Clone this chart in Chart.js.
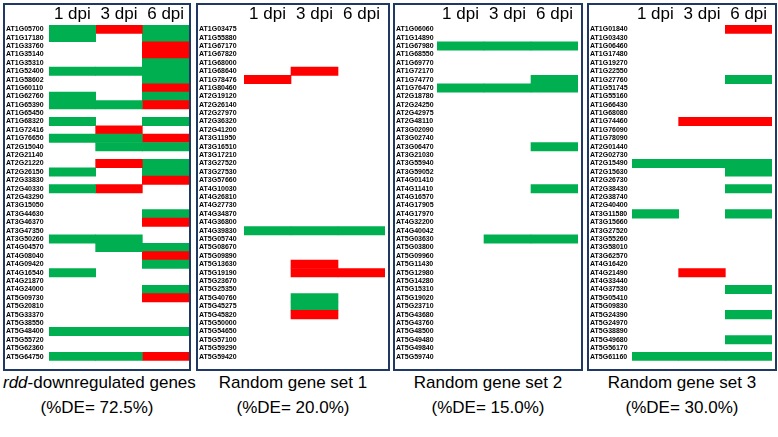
<!DOCTYPE html>
<html>
<head>
<meta charset="utf-8">
<script src="https://cdn.jsdelivr.net/npm/chart.js@4.4.1/dist/chart.umd.min.js"></script>
<style>
  body { margin: 0; background: #fff; font-family: "Liberation Sans", Arial, sans-serif; }
  #wrap { position: relative; width: 778px; height: 437px; overflow: hidden; }
  .box { position: absolute; border: 2px solid #1f3864; box-sizing: border-box; }
  .panel { position: absolute; }
  .cap { position: absolute; text-align: center; font-size: 17px; color: #000; line-height: 25px; white-space: nowrap; }
</style>
</head>
<body>
<div id="wrap"></div>
<script>
// column headers (days post inoculation)
const dpiLabels = ['1 dpi', '3 dpi', '6 dpi'];

// calls per gene for 1 / 3 / 6 dpi: G = down (green), R = up (red), - = not DE
const rddGenes = ['AT1G05700', 'AT1G17180', 'AT1G33760', 'AT1G35140', 'AT1G35310', 'AT1G52400', 'AT1G58602', 'AT1G60110',
    'AT1G62760', 'AT1G65390', 'AT1G65450', 'AT1G68320', 'AT1G72416', 'AT1G76650', 'AT2G15040', 'AT2G21140',
    'AT2G21220', 'AT2G26150', 'AT2G33830', 'AT2G40330', 'AT2G43290', 'AT3G15050', 'AT3G44630', 'AT3G46370',
    'AT3G47350', 'AT3G50260', 'AT4G04570', 'AT4G08040', 'AT4G09420', 'AT4G16540', 'AT4G21870', 'AT4G24000',
    'AT5G09730', 'AT5G20810', 'AT5G33370', 'AT5G38550', 'AT5G48400', 'AT5G55720', 'AT5G62360', 'AT5G64750'];
const rddCalls = ['GRG', 'G-G', '--R', '--R', '--G', 'GGG', '--G', '--R',
    'G-G', 'GGR', '---', 'G-G', '-R-', 'GGR', '-GG', '---',
    '-RG', 'G-G', '--R', 'GR-', '---', '---', '--G', '--R',
    '---', 'GG-', '-GG', '--R', '--G', 'G--', '---', '--G',
    '--R', '---', '---', '---', 'GGG', '---', '---', 'GGR'];

const set1Genes = ['AT1G03475', 'AT1G55880', 'AT1G67170', 'AT1G67820', 'AT1G68000', 'AT1G68640', 'AT1G78476', 'AT1G80460',
    'AT2G19120', 'AT2G26140', 'AT2G27970', 'AT2G36320', 'AT2G41200', 'AT3G11950', 'AT3G16510', 'AT3G17210',
    'AT3G27520', 'AT3G27530', 'AT3G57660', 'AT4G10030', 'AT4G26810', 'AT4G27730', 'AT4G34870', 'AT4G36800',
    'AT4G39830', 'AT5G05740', 'AT5G08670', 'AT5G09890', 'AT5G13630', 'AT5G19190', 'AT5G23670', 'AT5G25350',
    'AT5G40760', 'AT5G45275', 'AT5G45820', 'AT5G50000', 'AT5G54650', 'AT5G57100', 'AT5G59290', 'AT5G59420'];
const set1Calls = ['---', '---', '---', '---', '---', '-R-', 'R--', '---',
    '---', '---', '---', '---', '---', '---', '---', '---',
    '---', '---', '---', '---', '---', '---', '---', '---',
    'GGG', '---', '---', '---', '-R-', '-RR', '---', '---',
    '-G-', '-G-', '-R-', '---', '---', '---', '---', '---'];

const set2Genes = ['AT1G06060', 'AT1G14890', 'AT1G67980', 'AT1G68550', 'AT1G69770', 'AT1G72170', 'AT1G74770', 'AT1G76470',
    'AT2G18780', 'AT2G24250', 'AT2G42975', 'AT2G48110', 'AT3G02090', 'AT3G02740', 'AT3G06470', 'AT3G21030',
    'AT3G55940', 'AT3G59052', 'AT4G01410', 'AT4G11410', 'AT4G16570', 'AT4G17905', 'AT4G17970', 'AT4G32200',
    'AT4G40042', 'AT5G03630', 'AT5G03800', 'AT5G09960', 'AT5G11430', 'AT5G12980', 'AT5G14280', 'AT5G15310',
    'AT5G19020', 'AT5G23710', 'AT5G43680', 'AT5G43760', 'AT5G48500', 'AT5G49480', 'AT5G49840', 'AT5G59740'];
const set2Calls = ['---', '---', 'GGG', '---', '---', '---', '--G', 'GGG',
    '---', '---', '---', '---', '---', '---', '--G', '---',
    '---', '---', '---', '--G', '---', '---', '---', '---',
    '---', '-GG', '---', '---', '---', '---', '---', '---',
    '---', '---', '---', '---', '---', '---', '---', '---'];

const set3Genes = ['AT1G01840', 'AT1G03430', 'AT1G06460', 'AT1G17480', 'AT1G19270', 'AT1G22550', 'AT1G27760', 'AT1G51745',
    'AT1G55160', 'AT1G66430', 'AT1G68080', 'AT1G74460', 'AT1G76090', 'AT1G78090', 'AT2G01440', 'AT2G02730',
    'AT2G15490', 'AT2G15630', 'AT2G26730', 'AT2G38430', 'AT2G38740', 'AT2G40400', 'AT3G11580', 'AT3G15660',
    'AT3G27520', 'AT3G55260', 'AT3G58010', 'AT3G62570', 'AT4G16420', 'AT4G21490', 'AT4G33440', 'AT4G37530',
    'AT5G05410', 'AT5G09830', 'AT5G24390', 'AT5G24970', 'AT5G38890', 'AT5G49680', 'AT5G56170', 'AT5G61160'];
const set3Calls = ['--R', '---', '---', '---', '---', '---', '--G', '---',
    '---', '---', '---', '-RR', '---', '---', '---', '---',
    'GGG', '--G', '---', '--G', '---', '---', 'G-G', '---',
    '---', '---', '---', '---', '---', '-R-', '---', '--G',
    '---', '---', '--G', '---', '---', '--G', '---', 'GGG'];

const captions = [
    ['<i>rdd</i>-downregulated genes', '(%DE= 72.5%)'],
    ['Random gene set 1', '(%DE= 20.0%)'],
    ['Random gene set 2', '(%DE= 15.0%)'],
    ['Random gene set 3', '(%DE= 30.0%)']
];

const GREEN = '#00b050';
const RED = '#ff0000';

// panel geometry: box edges and where the coloured columns start / end
const panels = [
    { genes: rddGenes, calls: rddCalls, left: 3, right: 191, colStart: 49, colEnd: 189 },
    { genes: set1Genes, calls: set1Calls, left: 196, right: 390, colStart: 244, colEnd: 385 },
    { genes: set2Genes, calls: set2Calls, left: 393, right: 583, colStart: 437, colEnd: 578 },
    { genes: set3Genes, calls: set3Calls, left: 587, right: 777, colStart: 632, colEnd: 772 }
];

const BOX_TOP = 3, BOX_BOTTOM = 371;
const wrap = document.getElementById('wrap');

panels.forEach((p, idx) => {
    // frame
    const box = document.createElement('div');
    box.className = 'box';
    box.style.left = p.left + 'px';
    box.style.top = BOX_TOP + 'px';
    box.style.width = (p.right - p.left) + 'px';
    box.style.height = (BOX_BOTTOM - BOX_TOP) + 'px';
    wrap.appendChild(box);

    // canvas
    const canvasLeft = p.left + 3;
    const w = p.colEnd - canvasLeft;
    const h = 360;
    const cv = document.createElement('canvas');
    cv.className = 'panel';
    cv.width = w;
    cv.height = h;
    cv.style.left = canvasLeft + 'px';
    cv.style.top = '5px';
    cv.style.width = w + 'px';
    cv.style.height = h + 'px';
    wrap.appendChild(cv);

    const datasets = dpiLabels.map((lab, c) => ({
        label: lab,
        data: p.calls.map(s => s[c] === '-' ? null : [c, c + 1]),
        backgroundColor: p.calls.map(s => s[c] === 'R' ? RED : GREEN),
        borderWidth: 0,
        grouped: false,
        categoryPercentage: 1,
        barPercentage: 1
    }));

    new Chart(cv.getContext('2d'), {
        type: 'bar',
        data: { labels: p.genes, datasets: datasets },
        options: {
            indexAxis: 'y',
            responsive: false,
            animation: false,
            devicePixelRatio: 1,
            layout: { padding: { left: 0, right: 0, top: 0, bottom: 4 } },
            plugins: { legend: { display: false }, tooltip: { enabled: false } },
            scales: {
                x: {
                    type: 'linear',
                    position: 'top',
                    min: 0,
                    max: 3,
                    grid: { display: false, drawTicks: false },
                    border: { display: false },
                    afterBuildTicks: scale => { scale.ticks = dpiLabels.map((l, i) => ({ value: i + 0.5 })); },
                    afterFit: scale => { scale.height = 20; },
                    ticks: {
                        autoSkip: false,
                        maxRotation: 0,
                        padding: 0,
                        color: '#000',
                        font: { family: '"Liberation Sans", Arial', size: 17 },
                        callback: v => dpiLabels[Math.floor(v)]
                    }
                },
                y: {
                    type: 'category',
                    grid: { display: false, drawTicks: false },
                    border: { display: false },
                    afterFit: scale => { scale.width = p.colStart - canvasLeft; },
                    ticks: {
                        autoSkip: false,
                        crossAlign: 'far',
                        padding: 0,
                        color: '#000',
                        font: { family: '"Liberation Sans", Arial', size: 7, weight: 'bold' }
                    }
                }
            }
        }
    });

    // caption under the frame
    const cap = document.createElement('div');
    cap.className = 'cap';
    cap.style.left = p.left + 'px';
    cap.style.width = (p.right - p.left) + 'px';
    cap.style.top = (BOX_BOTTOM - 1) + 'px';
    cap.innerHTML = captions[idx][0] + '<br>' + captions[idx][1];
    wrap.appendChild(cap);
});
</script>
</body>
</html>
